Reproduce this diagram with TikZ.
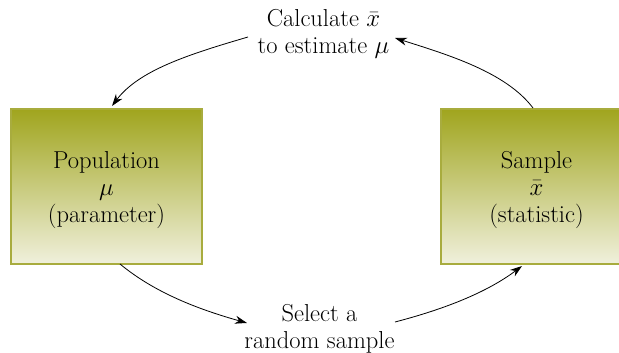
\documentclass[tikz,border=0pt]{standalone}
\usepackage{fontspec}
\usetikzlibrary{arrows.meta}
\definecolor{olivetop}{RGB}{160,165,30}
\definecolor{olivebot}{RGB}{240,240,220}
\definecolor{oliveline}{RGB}{168,172,62}
\begin{document}
\begin{tikzpicture}[x=1pt,y=-1pt,
  box/.style={draw=oliveline, line width=1.6pt, top color=olivetop, bottom color=olivebot,
    minimum width=191pt, minimum height=155pt, inner sep=0pt},
  txt/.style={align=center, inner sep=0pt, anchor=base, font=\fontsize{24.5}{27}\selectfont},
  arr/.style={line width=0.8pt, -{Stealth[length=12pt,width=8pt]}}]
\useasboundingbox (0,0) rectangle (619,353);
\clip (0,0) rectangle (619,353);
\node[box] (pop) at (106.5,186.5) {};
\node[box] (samp) at (536.5,186.5) {};
\node[txt] (poptxt) at (pop.center |- 0,222) {Population\\$\mu$\\(parameter)};
\node[txt] (samptxt) at (samp.center |- 0,222) {Sample\\$\bar{x}$\\(statistic)};
\node[txt] (calc) at (323.5,54) {Calculate $\bar{x}$\\to estimate $\mu$};
\node[txt] (sel) at (319.5,348) {Select a\\random sample};
\coordinate (c1) at (248,37);
\coordinate (c2) at (112,106);
\coordinate (c3) at (533,108);
\coordinate (c4) at (395,38);
\coordinate (c5) at (120,264);
\coordinate (c6) at (247,323);
\coordinate (c7) at (395,322);
\coordinate (c8) at (522,266);
\draw[arr] (c1) .. controls (190,54) and (139,70) .. (c2);
\draw[arr] (c3) .. controls (506,72) and (447,54.5) .. (c4);
\draw[arr] (c5) .. controls (155,293) and (199,309.5) .. (c6);
\draw[arr] (c7) .. controls (443,309.5) and (486,293) .. (c8);
\end{tikzpicture}
\end{document}
